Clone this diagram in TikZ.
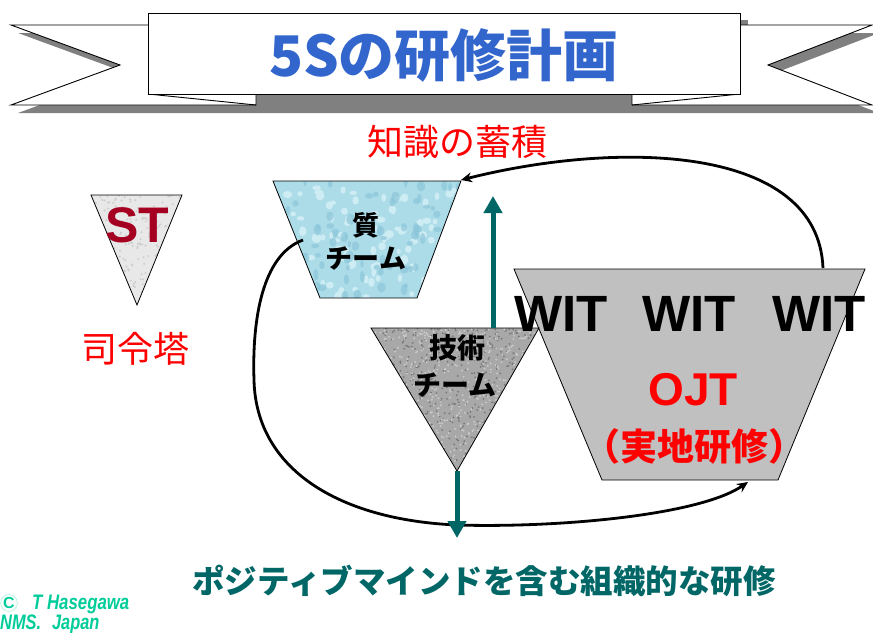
\documentclass[tikz,border=0pt]{standalone}
\usepackage{fontspec}
\setmainfont{Liberation Sans}
\newfontfamily\jp{Noto Sans CJK JP}
\usetikzlibrary{arrows.meta}
\definecolor{titleblue}{RGB}{51,102,204}
\definecolor{shadowgray}{RGB}{128,128,128}
\definecolor{stred}{RGB}{165,0,33}
\definecolor{tealc}{RGB}{0,102,102}
\definecolor{ojtgray}{RGB}{192,192,192}
\definecolor{stbase}{RGB}{232,232,232}
\definecolor{stdot}{RGB}{205,205,205}
\definecolor{bluebase}{RGB}{172,220,232}
\definecolor{bluelight}{RGB}{205,236,244}
\definecolor{bluedark}{RGB}{140,198,218}
\definecolor{techbase}{RGB}{168,168,168}
\definecolor{techdark}{RGB}{120,120,120}
\definecolor{techlight}{RGB}{205,205,205}
\definecolor{copygreen}{RGB}{0,204,153}
\tikzset{
  outline/.style={draw=black, line width=0.8pt},
  bandline/.style={draw=black, line width=0.9pt},
  jpbold/.style={font=\jp\bfseries, inner sep=0pt},
  curvearrow/.style={draw=black, line width=2.8pt, -{Stealth[length=11pt,width=10pt]}},
  tealarrow/.style={draw=tealc, line width=5pt, -{Triangle[length=17pt,width=18pt]}},
  witlabel/.style={font=\fontsize{51}{51}\selectfont\bfseries, inner sep=0pt},
  copytext/.style={anchor=west, inner sep=0pt, text=copygreen, font=\fontsize{21}{21}\selectfont\bfseries\itshape},
}
\begin{document}
\begin{tikzpicture}[x=1pt,y=-1pt]
\useasboundingbox (0,0) rectangle (873,632);
\pgfmathsetseed{7}

% ---------------- banner ----------------
\begin{scope}[shift={(7,8)}]
  \fill[shadowgray] (11,25) -- (872,25) -- (768,65) -- (872,105) -- (11,105) -- (120,65) -- cycle;
\end{scope}
\fill[shadowgray] (156,20) rectangle (748,102);
\draw[bandline, fill=white] (11,25) -- (256,25) -- (256,105) -- (11,105) -- (120,65) -- cycle;
\draw[bandline, fill=white] (632,25) -- (872,25) -- (768,65) -- (872,105) -- (632,105) -- cycle;
\draw[bandline] (148,94) -- (256,105);
\draw[bandline] (632,105) -- (740,94);
\draw[bandline, fill=white] (148,13) rectangle (740,94);
\node[jpbold, text=titleblue, font=\jp\bfseries\fontsize{56}{56}\selectfont] (title) at (444,55) {5Sの研修計画};

% ---------------- ST triangle ----------------
\coordinate (stA) at (91,195);
\coordinate (stB) at (182,195);
\coordinate (stC) at (137,305);
\begin{scope}
  \clip (stA) -- (stB) -- (stC) -- cycle;
  \fill[stbase] (91,195) rectangle (182,305);
  \foreach \i in {1,...,260} \fill[stdot] ({91+91*rnd},{195+110*rnd}) circle (1.1);
\end{scope}
\draw[outline] (stA) -- (stB) -- (stC) -- cycle;
\node[font=\fontsize{50}{50}\selectfont\bfseries, text=stred, inner sep=0pt] (st) at (137,225) {ST};
\node[jpbold, font=\jp\fontsize{36}{36}\selectfont, text=red] (shirei) at (135,349) {司令塔};

% ---------------- quality team trapezoid ----------------
\coordinate (qA) at (273,181);
\coordinate (qB) at (461,181);
\coordinate (qC) at (417,298);
\coordinate (qD) at (320,298);
\begin{scope}
  \clip (qA) -- (qB) -- (qC) -- (qD) -- cycle;
  \fill[bluebase] (273,181) rectangle (461,298);
  \foreach \i in {1,...,110} \fill[bluelight] ({273+188*rnd},{181+117*rnd}) ellipse ({2+3*rnd} and {2+3*rnd});
  \foreach \i in {1,...,90} \fill[bluedark, opacity=0.7] ({273+188*rnd},{181+117*rnd}) ellipse ({1.5+3*rnd} and {2+4*rnd});
\end{scope}
\draw[outline] (qA) -- (qB) -- (qC) -- (qD) -- cycle;
\node[jpbold, font=\jp\bfseries\fontsize{27}{27}\selectfont] (q1) at (366,225) {質};
\node[jpbold, font=\jp\bfseries\fontsize{27}{27}\selectfont] (q2) at (366,258) {チーム};

% ---------------- knowledge label ----------------
\node[jpbold, font=\jp\fontsize{36}{36}\selectfont, text=red] (chishiki) at (457,142) {知識の蓄積};

% ---------------- OJT trapezoid ----------------
\coordinate (oA) at (514,269);
\coordinate (oB) at (865,269);
\coordinate (oC) at (778,480);
\coordinate (oD) at (602,480);
\draw[outline, fill=ojtgray] (oA) -- (oB) -- (oC) -- (oD) -- cycle;

% ---------------- technical team triangle ----------------
\coordinate (tA) at (371,328);
\coordinate (tB) at (539,328);
\coordinate (tC) at (457,471);
\begin{scope}
  \clip (tA) -- (tB) -- (tC) -- cycle;
  \fill[techbase] (371,328) rectangle (539,471);
  \foreach \i in {1,...,700} \fill[techdark] ({371+168*rnd},{328+143*rnd}) circle (1.0);
  \foreach \i in {1,...,700} \fill[techlight] ({371+168*rnd},{328+143*rnd}) circle (1.0);
\end{scope}
\draw[outline] (tA) -- (tB) -- (tC) -- cycle;
\node[jpbold, font=\jp\bfseries\fontsize{28}{28}\selectfont] (t1) at (457,348) {技術};
\node[jpbold, font=\jp\bfseries\fontsize{28}{28}\selectfont] (t2) at (455,385) {チーム};

% ---------------- OJT texts ----------------
\node[witlabel] (w1) at (561,314) {WIT};
\node[witlabel] (w2) at (689,314) {WIT};
\node[witlabel] (w3) at (819,314) {WIT};
\node[font=\fontsize{46}{46}\selectfont\bfseries, text=red, inner sep=0pt] (ojt) at (693,390) {OJT};
\node[jpbold, font=\jp\bfseries\fontsize{37}{37}\selectfont, text=red] (jitchi) at (694,446) {（実地研修）};

% ---------------- curves ----------------
\coordinate (c1s) at (823,268);
\coordinate (c1e) at (461,180);
\draw[curvearrow] (c1s) .. controls (818,145) and (620,140) .. (c1e);
\coordinate (c2s) at (303,240);
\coordinate (c2a) at (254,380);
\coordinate (c2b) at (457,525);
\coordinate (c2e) at (748,482);
\draw[curvearrow] (c2s) .. controls (262,255) and (252,320) .. (c2a)
  .. controls (256,470) and (340,520) .. (c2b)
  .. controls (560,528) and (700,515) .. (c2e);

% ---------------- teal arrows ----------------
\coordinate (upS) at (493,328);
\coordinate (upE) at (493,196);
\draw[tealarrow] (upS) -- (upE);
\coordinate (dnE) at (457,538);
\draw[tealarrow] (tC) -- (dnE);

% ---------------- bottom texts ----------------
\node[jpbold, font=\jp\bfseries\fontsize{32.5}{32.5}\selectfont, text=tealc] (bottom) at (484,581) {ポジティブマインドを含む組織的な研修};
\node[circle, draw=copygreen!35, line width=0.6pt, inner sep=0.2pt, minimum size=15pt, text=copygreen, font=\fontsize{16}{16}\selectfont\bfseries] (copyc) at (9,603) {C};
\node[copytext] (copy1) at (32,604) {\scalebox{0.8}[1]{T Hasegawa}};
\node[copytext] (copy2) at (0,624) {\scalebox{0.78}[1]{NMS.\hspace{14pt}Japan}};
\end{tikzpicture}
\end{document}
